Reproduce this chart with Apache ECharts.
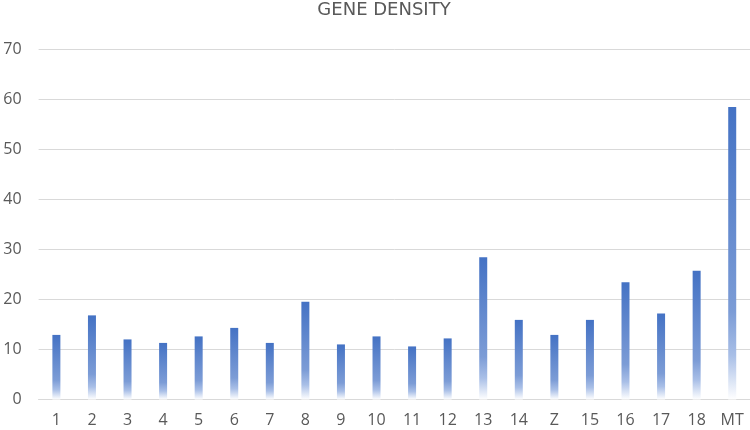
<!DOCTYPE html>
<html>
<head>
<meta charset="utf-8">
<script src="https://cdn.jsdelivr.net/npm/echarts@6/dist/echarts.min.js"></script>
<style>
  html, body { margin: 0; padding: 0; background: #fff; }
  #mainChart { width: 750px; height: 430px; }
</style>
</head>
<body>
<div id="mainChart"></div>
<script>
'use strict'
var categories = ['1','2','3','4','5','6','7','8','9','10','11','12','13','14','Z','15','16','17','18','MT'];
var density = [12.9, 16.8, 12.0, 11.3, 12.6, 14.3, 11.3, 19.5, 11.0, 12.6, 10.6, 12.2, 28.4, 15.9, 12.9, 15.9, 23.4, 17.2, 25.7, 58.4];
var yTicks = [0, 10, 20, 30, 40, 50, 60, 70];

var myChart = echarts.init(document.getElementById('mainChart'));
myChart.setOption({
    animation: false,
    title: {
        text: 'GENE DENSITY',
        left: 379,
        textAlign: 'center',
        top: -4,
        textStyle: { color: '#595959', fontSize: 18, fontWeight: 'normal', fontFamily: 'DejaVu Sans' }
    },
    grid: { left: 38.6, right: -4.6, top: 49, bottom: 30.5, containLabel: false },
    xAxis: {
        type: 'category',
        data: categories,
        axisLine: { lineStyle: { color: '#d9d9d9', width: 1 } },
        axisTick: { show: false },
        axisLabel: { color: '#595959', fontSize: 16, fontFamily: 'Open Sans', margin: 13 }
    },
    yAxis: {
        type: 'value',
        min: yTicks[0],
        max: yTicks[yTicks.length - 1],
        interval: 10,
        axisLine: { show: false },
        axisTick: { show: false },
        splitLine: { lineStyle: { color: '#d9d9d9' } },
        axisLabel: { color: '#595959', fontSize: 16, fontFamily: 'Open Sans', margin: 17 }
    },
    series: [
        {
            name: 'density',
            type: 'bar',
            data: density,
            barWidth: 8,
            itemStyle: {
                color: {
                    type: 'linear', x: 0, y: 0, x2: 0, y2: 1,
                    colorStops: [
                        { offset: 0, color: '#4472c4' },
                        { offset: 0.7, color: '#7c9cd6' },
                        { offset: 0.85, color: '#a9bfe7' },
                        { offset: 1, color: '#ffffff' }
                    ]
                }
            }
        }
    ]
});
</script>
</body>
</html>
